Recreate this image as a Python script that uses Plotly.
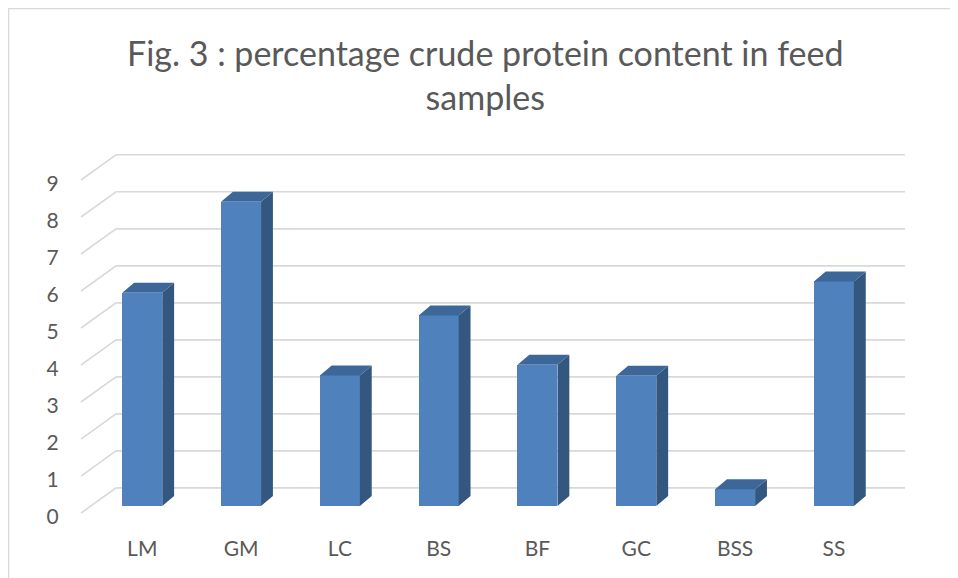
import plotly.graph_objects as go

categories = ["LM", "GM", "LC", "BS", "BF", "GC", "BSS", "SS"]
protein_pct = [5.76, 8.22, 3.53, 5.15, 3.82, 3.52, 0.45, 6.07]
y_ticks = [0, 1, 2, 3, 4, 5, 6, 7, 8, 9]
title_text = "Fig. 3 : percentage crude protein content in feed<br>samples"

# style constants (3D look)
BAR_W = 0.405        # front face width (x units)
DX, DY = 0.12, 0.27  # depth offset of bar
FRONT_OFF = -0.19    # gridline front edge offset (y units)
LABEL_OFF = -0.28    # tick label offset (y units)
BACK_OFF = 0.49      # back wall offset (y units)
GX_FRONT, GX_BACK, GX_RIGHT = -0.62, -0.265, 7.72

FRONT_C = "#4F81BD"
SIDE_C = "#34577F"
TOP_C = "#3E6799"
TEXT_C = "#595959"
GRID_C = "#D9D9D9"

W, H = 950, 570
ML, MR, MT, MB = 72, 50, 142, 58
PW, PH = W - ML - MR, H - MT - MB

xs = list(range(len(categories)))
fig = go.Figure()

# front faces
fig.add_trace(go.Bar(x=xs, y=protein_pct, width=BAR_W,
                     marker=dict(color=FRONT_C, line=dict(width=0)),
                     showlegend=False))

# side faces
sx, sy = [], []
for x, v in zip(xs, protein_pct):
    r = x + BAR_W / 2
    sx += [r, r + DX, r + DX, r, r, None]
    sy += [0, DY, v + DY, v, 0, None]
fig.add_trace(go.Scatter(x=sx, y=sy, mode="lines", fill="toself",
                         fillcolor=SIDE_C, line=dict(width=0, color=SIDE_C),
                         hoverinfo="skip", showlegend=False))

# top faces
tx, ty = [], []
for x, v in zip(xs, protein_pct):
    l, r = x - BAR_W / 2, x + BAR_W / 2
    tx += [l, r, r + DX, l + DX, l, None]
    ty += [v, v, v + DY, v + DY, v, None]
fig.add_trace(go.Scatter(x=tx, y=ty, mode="lines", fill="toself",
                         fillcolor=TOP_C, line=dict(width=0, color=TOP_C),
                         hoverinfo="skip", showlegend=False))

# gridlines (front diagonal + back wall), drawn below the bars
shapes = []
for v in y_ticks:
    path = (f"M {GX_FRONT},{v + FRONT_OFF} L {GX_BACK},{v + BACK_OFF} "
            f"L {GX_RIGHT},{v + BACK_OFF}")
    shapes.append(dict(type="path", path=path, xref="x", yref="y",
                       line=dict(color=GRID_C, width=1.6), layer="below"))
# chart border
shapes.append(dict(type="rect", xref="paper", yref="paper",
                   x0=(0.5 - ML) / PW, x1=1.3,
                   y0=-0.5, y1=(PH + MT - 0.5) / PH,
                   line=dict(color="#D9D9D9", width=1.5),
                   fillcolor="rgba(0,0,0,0)", layer="below"))

fig.update_layout(
    width=W, height=H,
    margin=dict(l=ML, r=MR, t=MT, b=MB),
    paper_bgcolor="white", plot_bgcolor="white",
    font=dict(family="Lato, 'Open Sans', sans-serif", color=TEXT_C),
    xaxis=dict(range=[-0.63, 7.75], tickvals=xs, ticktext=categories,
               showgrid=False, zeroline=False, showline=False,
               ticks="outside", ticklen=10, tickcolor="rgba(0,0,0,0)",
               tickfont=dict(size=21, color=TEXT_C)),
    yaxis=dict(range=[-0.378, 9.62],
               tickvals=[v + LABEL_OFF for v in y_ticks],
               ticktext=[str(v) for v in y_ticks],
               showgrid=False, zeroline=False, showline=False,
               ticks="outside", ticklen=16, tickcolor="rgba(0,0,0,0)",
               tickfont=dict(size=21, color=TEXT_C)),
    annotations=[dict(text=title_text, xref="paper", yref="paper",
                      x=(477 - ML) / PW, y=(PH + MT - 22) / PH,
                      xanchor="center", yanchor="top", showarrow=False,
                      align="center",
                      font=dict(size=34, color=TEXT_C, family="Lato, sans-serif"))],
    shapes=shapes,
    bargap=0,
)

fig.write_html("out.html")
